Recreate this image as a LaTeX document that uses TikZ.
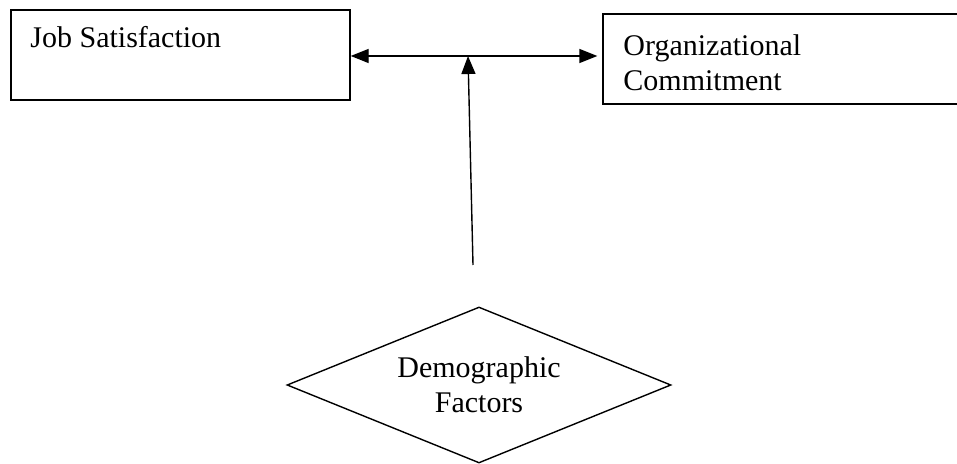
\documentclass[tikz,border=0pt]{standalone}
\usepackage{fontspec}
\setmainfont{Liberation Serif}
\usetikzlibrary{shapes.geometric,arrows.meta}

\tikzset{
  box/.style={draw, line width=0.7pt, inner sep=0pt},
  label text/.style={inner sep=0pt, align=left},
  tip/.style={-{Triangle[length=9pt,width=7pt]}},
  conn/.style={line width=0.7pt, tip},
}

\begin{document}
\begin{tikzpicture}[x=0.5pt, y=-0.5pt, font=\fontsize{15pt}{17.5pt}\selectfont]
                % Frame
                \path[use as bounding box, clip] (0,0) rectangle (957,464);

                % Boxes
                \node[box, minimum width=169.5pt, minimum height=45pt] (js) at (180.5,55) {};
                \node[label text, anchor=base west] (jstext) at (30,48) {Job Satisfaction};
                \node[box, minimum width=183.5pt, minimum height=45pt] (oc) at (786.5,59) {};
                \node[label text, anchor=west] (octext) at (623,63) {Organizational\\Commitment};

                % Demographic factors
                \node[box, diamond, aspect=2.46, minimum width=192pt, minimum height=78pt, align=center] (df) at (479,385) {Demographic\\Factors};

                % Links
                \coordinate (mid) at (468,56);
                \coordinate (tail) at (473,265);
                \draw[conn, {Triangle[length=9pt,width=7pt]}-{Triangle[length=9pt,width=7pt]}, shorten >=2.5pt] (js.east |- mid) -- (oc.west |- mid);
                \draw[conn] (tail) -- (mid);
\end{tikzpicture}
\end{document}
